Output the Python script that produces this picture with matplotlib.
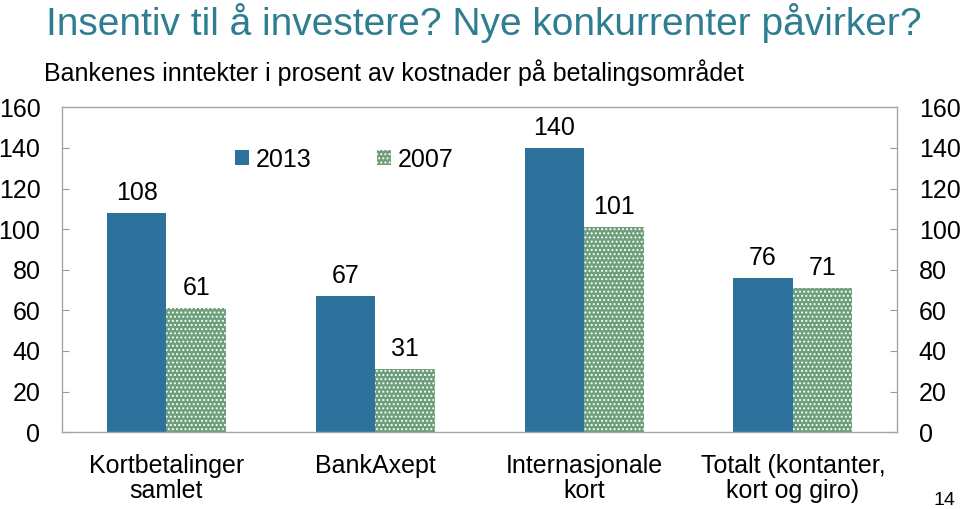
import numpy as np
import matplotlib.pyplot as plt

# Data
categories = ['Kortbetalinger\nsamlet', 'BankAxept', 'Internasjonale\nkort',
              'Totalt (kontanter,\nkort og giro)']
values_2013 = [108, 67, 140, 76]
values_2007 = [61, 31, 101, 71]
series_names = ['2013', '2007']
yticks = [0, 20, 40, 60, 80, 100, 120, 140, 160]

title = 'Insentiv til å investere? Nye konkurrenter påvirker?'
subtitle = 'Bankenes inntekter i prosent av kostnader på betalingsområdet'
page_no = '14'

blue = '#2d729d'
green = '#6e9f7c'
teal = '#2f7d91'

plt.rcParams['font.family'] = ['Liberation Sans', 'DejaVu Sans']
plt.rcParams['hatch.linewidth'] = 0.9

fig = plt.figure(figsize=(9.6, 5.09), dpi=100)
ax = fig.add_axes([0.0646, 0.151, 0.870, 0.638])

x = np.arange(len(categories))
w = 0.285
ax.bar(x - w / 2, values_2013, w, color=blue, label=series_names[0], zorder=2)
ax.bar(x + w / 2, values_2007, w, color=green, zorder=2)
# white dotted pattern on the 2007 bars
ax.bar(x + w / 2, values_2007, w, facecolor='none', edgecolor='white',
       hatch='....', linewidth=0, zorder=3)
# legend proxy for the hatched series
ax.bar([0], [0], 0, color=green, edgecolor='white', hatch='....', linewidth=0,
       label=series_names[1])

for xi, v in zip(x - w / 2, values_2013):
    ax.annotate(str(v), (xi, v), xytext=(0, 6), textcoords='offset points',
                ha='center', va='bottom', fontsize=18)
for xi, v in zip(x + w / 2, values_2007):
    ax.annotate(str(v), (xi, v), xytext=(0, 6), textcoords='offset points',
                ha='center', va='bottom', fontsize=18)

ax.set_xlim(-0.5, len(categories) - 0.5)
ax.set_ylim(0, 160)
ax.set_yticks(yticks)
ax.set_xticks(x)
ax.set_xticklabels(categories, fontsize=18, linespacing=1.05)
ax.tick_params(axis='x', length=0, pad=16)
ax.tick_params(axis='y', direction='in', length=5, color='#999999',
               labelsize=18, pad=15.5, right=True, labelright=True)
for s in ax.spines.values():
    s.set_color('#a6a6a6')
    s.set_linewidth(1)

leg = ax.legend(ncol=2, loc='upper left', bbox_to_anchor=(0.18, 0.945),
                frameon=False, fontsize=18, handlelength=0.55, handleheight=0.55,
                handletextpad=0.3, columnspacing=2.6)

fig.text(0.048, 0.955, title, fontsize=28, color=teal,
         va='center', ha='left')
fig.text(0.046, 0.857, subtitle, fontsize=18,
         va='center', ha='left')
fig.text(0.995, 0.0, page_no, fontsize=14, ha='right', va='bottom')

fig.savefig('out.png', dpi=100)
